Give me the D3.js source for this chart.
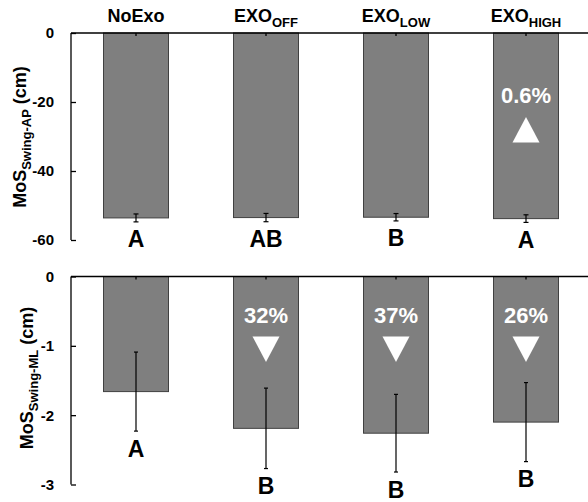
<!DOCTYPE html>
<html>
<head>
<meta charset="utf-8">
<script src="https://cdn.jsdelivr.net/npm/d3@7"></script>
<style>
  html, body { margin: 0; padding: 0; background: #fff; }
  svg { display: block; font-family: "Liberation Sans", Arial, sans-serif; font-weight: bold; }
</style>
</head>
<body>
<svg id="chart" width="588" height="502"></svg>
<script>
// Conditions (main label + subscript)
const catMain = ["NoExo", "EXO", "EXO", "EXO"];
const catSub  = ["", "OFF", "LOW", "HIGH"];

// Anterior-posterior margin of stability during swing (cm)
const apMean = [-53.6, -53.5, -53.4, -53.8];
const apErr  = [1.15, 1.2, 1.07, 1.1];
const apLetters = ["A", "AB", "B", "A"];
const apChange  = ["", "", "", "0.6%"];
const apDir     = ["", "", "", "up"];
const apTicks   = [0, -20, -40, -60];

// Medio-lateral margin of stability during swing (cm)
const mlMean = [-1.66, -2.19, -2.26, -2.10];
const mlErr  = [0.57, 0.58, 0.56, 0.57];
const mlLetters = ["A", "B", "B", "B"];
const mlChange  = ["", "32%", "37%", "26%"];
const mlDir     = ["", "down", "down", "down"];
const mlTicks   = [0, -1, -2, -3];

const svg = d3.select("#chart");
const axisX = 71;
const x = d3.scaleBand()
  .domain(d3.range(catMain.length))
  .range([axisX, 591])
  .paddingInner(0.5)
  .paddingOuter(0.25);

// Category headers above the top panel
const heads = svg.append("g").selectAll("text")
  .data(catMain)
  .join("text")
  .attr("x", (d, i) => x(i) + x.bandwidth() / 2)
  .attr("y", 22)
  .attr("text-anchor", "middle")
  .attr("font-size", 18)
  .attr("fill", "#000");
heads.append("tspan").text(d => d);
heads.append("tspan")
  .attr("font-size", 13)
  .attr("dy", 5)
  .text((d, i) => catSub[i]);

function panel(cfg) {
  const y = d3.scaleLinear().domain([0, cfg.min]).range([cfg.top, cfg.bottom]);
  const g = svg.append("g");

  // bars hanging from zero
  g.selectAll("rect.bar")
    .data(cfg.mean)
    .join("rect")
    .attr("class", "bar")
    .attr("x", (d, i) => x(i))
    .attr("width", x.bandwidth())
    .attr("y", y(0))
    .attr("height", d => y(d) - y(0))
    .attr("fill", "#7f7f7f")
    .attr("stroke", "#404040")
    .attr("stroke-width", 1);

  // error bars
  const eb = g.selectAll("g.err")
    .data(cfg.mean)
    .join("g")
    .attr("class", "err")
    .attr("stroke", "#000")
    .attr("stroke-width", 1.2);
  const cx = i => x(i) + x.bandwidth() / 2;
  eb.append("line")
    .attr("x1", (d, i) => cx(i)).attr("x2", (d, i) => cx(i))
    .attr("y1", (d, i) => y(d + cfg.err[i]))
    .attr("y2", (d, i) => y(d - cfg.err[i]));
  [1, -1].forEach(s => {
    eb.append("line")
      .attr("x1", (d, i) => cx(i) - cfg.cap).attr("x2", (d, i) => cx(i) + cfg.cap)
      .attr("y1", (d, i) => y(d + s * cfg.err[i]))
      .attr("y2", (d, i) => y(d + s * cfg.err[i]));
  });

  // y axis with inward ticks
  const yAxis = d3.axisRight(y).tickValues(cfg.ticks).tickSize(5).tickFormat("");
  const ya = g.append("g").attr("transform", `translate(${axisX},0)`).call(yAxis);
  ya.select(".domain").attr("stroke", "#000").attr("stroke-width", 1.3)
    .attr("d", `M0,${y(0)}V${y(cfg.min)}`);
  ya.selectAll(".tick line").attr("stroke", "#000").attr("stroke-width", 1.3);

  // tick labels
  g.selectAll("text.tl")
    .data(cfg.ticks)
    .join("text")
    .attr("class", "tl")
    .attr("x", 54)
    .attr("y", d => y(d))
    .attr("dy", "0.36em")
    .attr("text-anchor", "end")
    .attr("font-size", 15)
    .text(d => d3.format("d")(d).replace("\u2212", "-"));

  // zero line with category ticks
  const xa = d3.axisBottom(x).tickSize(3).tickFormat("");
  const xg = g.append("g").attr("transform", `translate(0,${y(0)})`).call(xa);
  xg.select(".domain").attr("stroke", "#000").attr("stroke-width", 1.5)
    .attr("d", `M${axisX},0H588`);
  xg.selectAll(".tick line").attr("stroke", "#000").attr("stroke-width", 1.3);

  // significance letters under each error bar
  g.selectAll("text.letter")
    .data(cfg.letters)
    .join("text")
    .attr("class", "letter")
    .attr("x", (d, i) => cx(i))
    .attr("y", (d, i) => y(cfg.mean[i] - cfg.err[i]) + 25.5)
    .attr("text-anchor", "middle")
    .attr("font-size", 23)
    .text(d => d);

  // percent change and direction arrows inside bars
  g.selectAll("text.pct")
    .data(cfg.change)
    .join("text")
    .attr("class", "pct")
    .attr("x", (d, i) => cx(i))
    .attr("y", cfg.pctY)
    .attr("text-anchor", "middle")
    .attr("font-size", 22)
    .attr("fill", "#fff")
    .text(d => d);
  const tw = 13.5, th = 25.5;
  g.selectAll("path.arrow")
    .data(cfg.dir.map((d, i) => ({ d, i })).filter(o => o.d))
    .join("path")
    .attr("class", "arrow")
    .attr("fill", "#fff")
    .attr("d", o => {
      const c = cx(o.i), t = cfg.triY;
      return o.d === "up"
        ? `M${c - tw},${t + th}L${c + tw},${t + th}L${c},${t}Z`
        : `M${c - tw},${t}L${c + tw},${t}L${c},${t + th}Z`;
    });

  // rotated y label with subscript
  const lab = g.append("text")
    .attr("transform", `translate(${cfg.labX},${cfg.labY}) rotate(-90)`)
    .attr("text-anchor", "middle")
    .attr("font-size", 18);
  lab.append("tspan").text("MoS");
  lab.append("tspan").attr("font-size", 13).attr("dy", 5).text(cfg.sub);
  lab.append("tspan").attr("dy", -5).text(" (cm)");
}

panel({
  mean: apMean, err: apErr, letters: apLetters, change: apChange, dir: apDir,
  ticks: apTicks, min: -60, top: 33, bottom: 240, cap: 2.5,
  pctY: 103, triY: 117, labX: 25.5, labY: 137, sub: "Swing-AP"
});

panel({
  mean: mlMean, err: mlErr, letters: mlLetters, change: mlChange, dir: mlDir,
  ticks: mlTicks, min: -3, top: 276.5, bottom: 484.5, cap: 2,
  pctY: 323, triY: 336.5, labX: 33, labY: 378, sub: "Swing-ML"
});
</script>
</body>
</html>
